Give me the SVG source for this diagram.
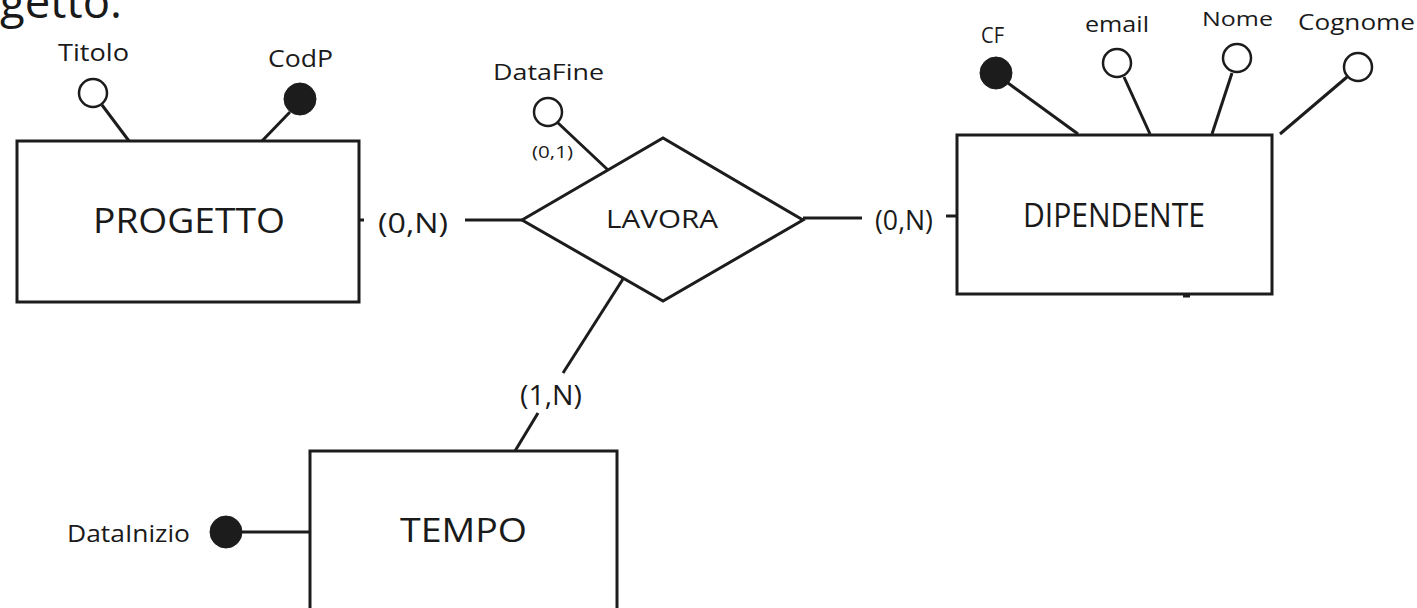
<svg xmlns="http://www.w3.org/2000/svg" width="1417" height="608" viewBox="0 0 1417 608">
<style>
.shape{fill:#fff;stroke:#1c1c1c;stroke-width:3}
.ln{stroke:#1c1c1c;stroke-width:3;fill:none}
.attr{fill:#fff;stroke:#1c1c1c;stroke-width:2.5}
.key{fill:#1c1c1c;stroke:#1c1c1c;stroke-width:1}
text{font-family:"Open Sans","Liberation Sans",sans-serif;fill:#1a1a1a}
</style>
<rect x="0" y="0" width="1417" height="608" fill="#fff"/>
<text x="0" y="18" font-size="45" textLength="122" lengthAdjust="spacingAndGlyphs">getto.</text>

<g id="connectors">
  <line class="ln" x1="359" y1="220" x2="364" y2="220"/>
  <line class="ln" x1="465" y1="220" x2="522" y2="220"/>
  <line class="ln" x1="803" y1="218" x2="862" y2="218"/>
  <line class="ln" x1="946" y1="216" x2="957" y2="216"/>
  <line class="ln" x1="623" y1="279" x2="563" y2="373"/>
  <line class="ln" x1="538" y1="413" x2="515" y2="451"/>
  <line class="ln" x1="1183" y1="296" x2="1190" y2="296" stroke-width="2"/>
  <text x="378" y="233" font-size="28" textLength="70" lengthAdjust="spacingAndGlyphs">(0,N)</text>
  <text x="875" y="230" font-size="27" textLength="58" lengthAdjust="spacingAndGlyphs">(0,N)</text>
  <text x="520" y="405" font-size="28" textLength="62" lengthAdjust="spacingAndGlyphs">(1,N)</text>
</g>

<g id="progetto">
  <line class="ln" x1="102" y1="105" x2="129" y2="141"/>
  <line class="ln" x1="290" y1="112" x2="262" y2="141"/>
  <circle class="attr" cx="93" cy="93" r="14"/>
  <circle class="key" cx="300" cy="99" r="16"/>
  <text x="58" y="61" font-size="24" textLength="71" lengthAdjust="spacingAndGlyphs">Titolo</text>
  <text x="268" y="67" font-size="24" textLength="65" lengthAdjust="spacingAndGlyphs">CodP</text>
  <rect class="shape" x="17" y="141" width="342" height="161"/>
  <text x="93" y="233" font-size="35" textLength="192" lengthAdjust="spacingAndGlyphs">PROGETTO</text>
</g>

<g id="lavora">
  <line class="ln" x1="557" y1="122" x2="608" y2="170"/>
  <circle class="attr" cx="548" cy="112" r="14"/>
  <text x="493" y="80" font-size="22" textLength="111" lengthAdjust="spacingAndGlyphs">DataFine</text>
  <text x="532" y="158" font-size="17" textLength="41" lengthAdjust="spacingAndGlyphs">(0,1)</text>
  <polygon class="shape" points="522,220 663,138 803,220 663,301"/>
  <text x="606" y="228" font-size="26" textLength="112" lengthAdjust="spacingAndGlyphs">LAVORA</text>
</g>

<g id="dipendente">
  <line class="ln" x1="1008" y1="83" x2="1078" y2="134"/>
  <line class="ln" x1="1124" y1="77" x2="1150" y2="134"/>
  <line class="ln" x1="1232" y1="73" x2="1212" y2="134"/>
  <line class="ln" x1="1347" y1="77" x2="1280" y2="134"/>
  <circle class="key" cx="996" cy="73" r="16"/>
  <circle class="attr" cx="1117" cy="63" r="14"/>
  <circle class="attr" cx="1237" cy="58" r="14"/>
  <circle class="attr" cx="1358" cy="67" r="14"/>
  <text x="981" y="43" font-size="21" textLength="23" lengthAdjust="spacingAndGlyphs">CF</text>
  <text x="1085" y="32" font-size="22" textLength="64" lengthAdjust="spacingAndGlyphs">email</text>
  <text x="1202" y="26" font-size="20" textLength="71" lengthAdjust="spacingAndGlyphs">Nome</text>
  <text x="1298" y="30" font-size="21" textLength="117" lengthAdjust="spacingAndGlyphs">Cognome</text>
  <rect class="shape" x="957" y="135" width="315" height="159"/>
  <text x="1023" y="227" font-size="33" textLength="182" lengthAdjust="spacingAndGlyphs">DIPENDENTE</text>
</g>

<g id="tempo">
  <line class="ln" x1="242" y1="532" x2="310" y2="532"/>
  <circle class="key" cx="226" cy="532" r="16"/>
  <text x="67" y="542" font-size="24" textLength="123" lengthAdjust="spacingAndGlyphs">DataInizio</text>
  <rect class="shape" x="310" y="451" width="307" height="175"/>
  <text x="400" y="542" font-size="33" textLength="127" lengthAdjust="spacingAndGlyphs">TEMPO</text>
</g>
</svg>
